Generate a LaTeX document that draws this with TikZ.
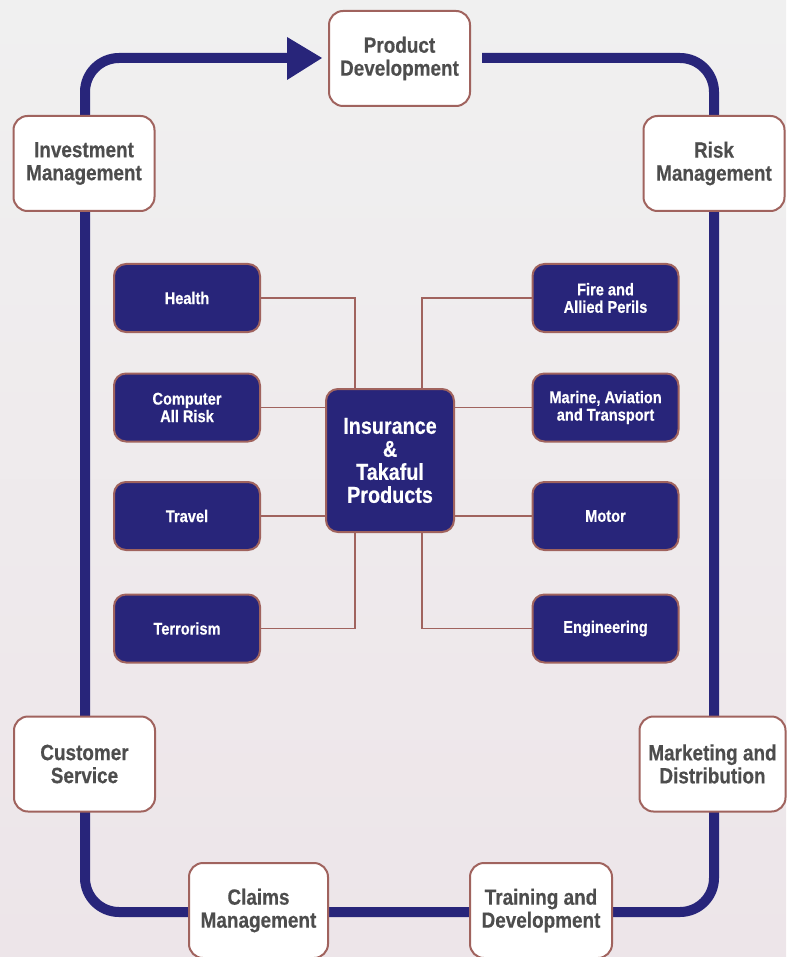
\documentclass[tikz,border=0pt]{standalone}
\usepackage{fontspec}
\newfontfamily\cond{Liberation Sans}[FakeStretch=0.86, FakeBold=0.4]
\definecolor{navy}{RGB}{40,37,122}
\definecolor{edge}{RGB}{160,99,94}
\definecolor{wtext}{RGB}{77,77,77}
\definecolor{bgtop}{RGB}{240,240,240}
\definecolor{bgbot}{RGB}{237,229,233}
\begin{document}
\begin{tikzpicture}[x=1pt,y=-1pt,
  wbox/.style={draw=edge, line width=2pt, fill=white, rounded corners=14pt, text=wtext,
    font=\cond\bfseries\fontsize{22}{23}\selectfont, align=center, inner sep=0pt,
    minimum width=141pt, minimum height=95pt},
  dbox/.style={draw=edge, line width=2pt, fill=navy, rounded corners=12pt, text=white,
    font=\cond\bfseries\fontsize{17}{17.5}\selectfont, align=center, inner sep=0pt,
    minimum width=146pt, minimum height=68pt},
  cbox/.style={draw=edge, line width=2pt, fill=navy, rounded corners=12pt, text=white,
    font=\cond\bfseries\fontsize{23}{23}\selectfont, align=center, inner sep=0pt,
    minimum width=128pt, minimum height=143pt},
  link/.style={draw=edge, line width=1.5pt},
  loopline/.style={draw=navy, line width=10pt, rounded corners=34pt}]
\useasboundingbox (0,0) rectangle (786,957);
\shade[top color=bgtop, bottom color=bgbot] (0,0) rectangle (786,957);

% loop
\coordinate (lt) at (287,58);
\coordinate (c1) at (85,58);
\coordinate (c4) at (85,912);
\coordinate (c3) at (714,912);
\coordinate (c2) at (714,58);
\coordinate (rt) at (482,58);
\draw[loopline] (lt) -- (c1) -- (c4) -- (c3) -- (c2) -- (rt);
\coordinate (a1) at (287,37);
\coordinate (a2) at (322,58);
\coordinate (a3) at (287,80);
\fill[navy] (a1) -- (a2) -- (a3) -- cycle;

% outer boxes
\node[wbox] (pd) at (399.5,58.5) {Product\\Development};
\node[wbox] (im) at (84,163.5) {Investment\\Management};
\node[wbox] (rm) at (714,163.5) {Risk\\Management};
\node[wbox] (cs) at (84.5,764) {Customer\\Service};
\node[wbox, minimum width=146pt] (md) at (712.5,764) {Marketing and\\Distribution};
\node[wbox, minimum width=139pt] (cm) at (258.5,910.5) {Claims\\Management};
\node[wbox, minimum width=142pt] (td) at (541,910.5) {Training and\\Development};

% center and products
\node[cbox] (ctr) at (390,460.5) {Insurance\\\&\\Takaful\\Products};
\node[dbox] (health) at (187,298) {Health};
\node[dbox] (car) at (187,407.5) {Computer\\All Risk};
\node[dbox] (travel) at (187,516) {Travel};
\node[dbox] (terror) at (187,628.5) {Terrorism};
\node[dbox] (fire) at (605.5,298) {Fire and\\Allied Perils};
\node[dbox] (marine) at (605.5,407.5) {Marine, Aviation\\and Transport};
\node[dbox] (motor) at (605.5,516) {Motor};
\node[dbox] (eng) at (605.5,628.5) {Engineering};

% connectors
\draw[link] (health.east) -| ([xshift=-35pt]ctr.north);
\draw[link] (car.east) -- (car.east -| ctr.west);
\draw[link] (travel.east) -- (travel.east -| ctr.west);
\draw[link] (terror.east) -| ([xshift=-35pt]ctr.south);
\draw[link] (fire.west) -| ([xshift=32pt]ctr.north);
\draw[link] (marine.west) -- (marine.west -| ctr.east);
\draw[link] (motor.west) -- (motor.west -| ctr.east);
\draw[link] (eng.west) -| ([xshift=32pt]ctr.south);
\end{tikzpicture}
\end{document}
